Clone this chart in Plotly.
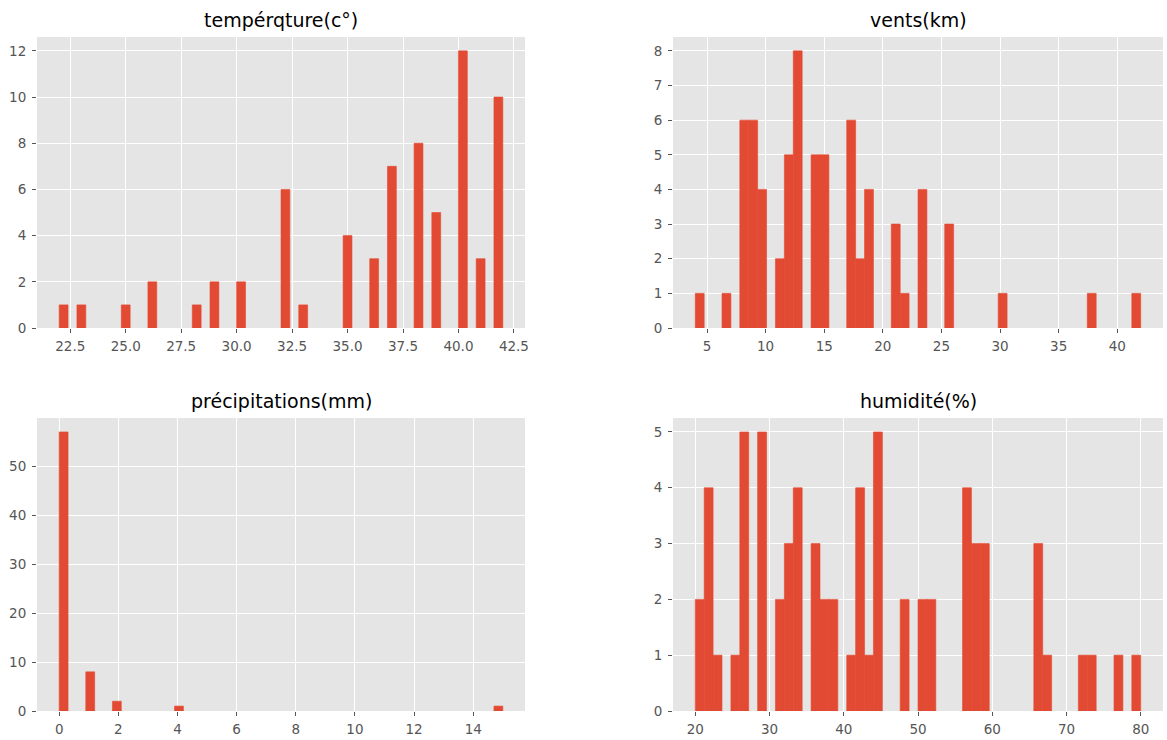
import numpy as np
import plotly.graph_objects as go

# ---- data (observed values and how many times each occurs) ----
temp_title = "tempérqture(c°)"
temp_values = [22, 23, 25, 26, 28, 29, 30, 32, 33, 35, 36, 37, 38, 39, 40, 41, 42]
temp_counts = [1, 1, 1, 2, 1, 2, 2, 6, 1, 4, 3, 7, 8, 5, 12, 3, 10]

wind_title = "vents(km)"
wind_values = [4, 7, 8, 9, 10, 11, 12, 13, 14, 15, 17, 18, 19, 21, 22, 23, 26, 30, 38, 42]
wind_counts = [1, 1, 6, 6, 4, 2, 5, 8, 5, 5, 6, 2, 4, 3, 1, 4, 3, 1, 1, 1]

prec_title = "précipitations(mm)"
prec_values = [0, 1, 2, 4, 15]
prec_counts = [57, 8, 2, 1, 1]

hum_title = "humidité(%)"
hum_values = [20, 22, 23, 25, 27, 29, 31, 33, 34, 36, 37, 39, 41, 42, 43, 45, 48, 51,
              52, 57, 58, 59, 66, 67, 72, 73, 77, 80]
hum_counts = [2, 4, 1, 1, 5, 5, 2, 3, 4, 3, 2, 2, 1, 4, 1, 5, 2, 2,
              2, 4, 3, 3, 3, 1, 1, 1, 1, 1]

N_BINS = 50

temp_xticks = [22.5, 25.0, 27.5, 30.0, 32.5, 35.0, 37.5, 40.0, 42.5]
temp_yticks = [0, 2, 4, 6, 8, 10, 12]
wind_xticks = [5, 10, 15, 20, 25, 30, 35, 40]
wind_yticks = [0, 1, 2, 3, 4, 5, 6, 7, 8]
prec_xticks = [0, 2, 4, 6, 8, 10, 12, 14]
prec_yticks = [0, 10, 20, 30, 40, 50]
hum_xticks = [20, 30, 40, 50, 60, 70, 80]
hum_yticks = [0, 1, 2, 3, 4, 5]

# ---- style ----
W, H = 1167, 740
BAR = "#E24A33"
BG = "#E5E5E5"
TICK = "#555555"
FONT = "DejaVu Sans"

panels = [
    (temp_title, temp_values, temp_counts, temp_xticks, temp_yticks, "{:.1f}", (37, 525, 37, 328)),
    (wind_title, wind_values, wind_counts, wind_xticks, wind_yticks, "{:d}", (673, 1163, 37, 328)),
    (prec_title, prec_values, prec_counts, prec_xticks, prec_yticks, "{:d}", (37, 525, 418, 711)),
    (hum_title, hum_values, hum_counts, hum_xticks, hum_yticks, "{:d}", (673, 1163, 418, 711)),
]

fig = go.Figure()
layout = dict(
    width=W, height=H,
    margin=dict(l=0, r=0, t=0, b=0),
    paper_bgcolor="white",
    plot_bgcolor=BG,
    showlegend=False,
    template="none",
    font=dict(family=FONT, color=TICK),
    annotations=[],
)

for i, (title, vals, cnts, xt, yt, fmt, box) in enumerate(panels):
    k = "" if i == 0 else str(i + 1)
    data = np.repeat(np.array(vals, dtype=float), cnts)
    counts, edges = np.histogram(data, bins=N_BINS)
    centers = (edges[:-1] + edges[1:]) / 2
    widths = np.diff(edges)
    keep = counts > 0
    fig.add_trace(go.Bar(
        x=centers[keep], y=counts[keep], width=widths[keep],
        marker=dict(color=BAR, line=dict(width=0.6, color=BAR)),
        xaxis="x" + k, yaxis="y" + k, hoverinfo="x+y",
    ))
    lo, hi = edges[0], edges[-1]
    pad = 0.05 * (hi - lo)
    ymax = counts.max() * 1.05
    x0, x1, yt0, yb0 = box
    common = dict(
        showgrid=True, gridcolor="white", gridwidth=1,
        zeroline=False, showline=False,
        ticks="outside", ticklen=4, tickwidth=1, tickcolor=TICK,
        tickfont=dict(family=FONT, size=13.5, color=TICK),
        automargin=False,
    )
    layout["xaxis" + k] = dict(
        domain=[x0 / W, x1 / W], range=[lo - pad, hi + pad],
        anchor="y" + k, tickmode="array", tickvals=xt,
        ticktext=[fmt.format(v) for v in xt], ticklabelstandoff=2, **common,
    )
    layout["yaxis" + k] = dict(
        domain=[1 - yb0 / H, 1 - yt0 / H], range=[0, ymax],
        anchor="x" + k, tickmode="array", tickvals=yt,
        ticktext=[str(v) for v in yt], ticklabelstandoff=3, **common,
    )
    layout["annotations"].append(dict(
        text=title, xref="paper", yref="paper",
        x=(x0 + x1) / 2 / W, y=1 - yt0 / H,
        xanchor="center", yanchor="bottom", yshift=4, showarrow=False,
        font=dict(family=FONT, size=19, color="black"),
    ))

fig.update_layout(**layout)
fig.write_html("out.html", config={"displayModeBar": False},
               post_script="document.body.style.margin='0';")
